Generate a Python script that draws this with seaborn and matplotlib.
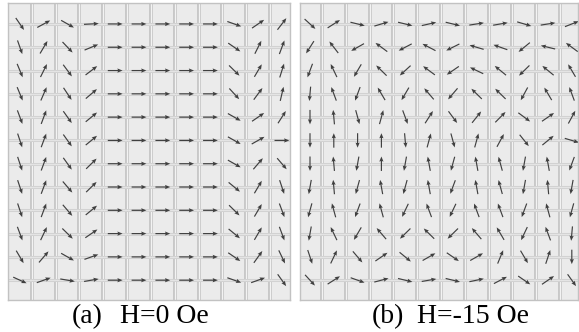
import numpy as np
import pandas as pd
import matplotlib.pyplot as plt
import seaborn as sns

# magnetisation angle of every cell (degrees, 0 = right, 90 = up), row by row from the top
angles_a = [
    [-56, 29, -30, 3, 0, 0, 0, 0, 0, -20, 35, 53],
    [-71, 60, -47, 23, 0, 0, 0, 0, 0, -35, 64, 70],
    [-68, 64, -54, 38, 0, 0, 0, 0, 0, -45, 60, 73],
    [-68, 67, -57, 41, 0, 0, 0, 0, 0, -48, 54, 77],
    [-70, 70, -55, 40, 0, 0, 0, 0, 0, -30, 35, 58],
    [-72, 70, -55, 40, 0, 0, 0, 0, 0, -30, 30, 0],
    [-72, 70, -55, 45, 0, 0, 0, 0, 0, -30, 50, -50],
    [-72, 70, -50, 45, 0, 0, 0, 0, 0, -40, 60, -72],
    [-72, 70, -50, 40, 0, 0, 0, 0, 0, -45, 60, -70],
    [-70, 65, -45, 35, 0, 0, 0, 0, 0, -40, 60, -70],
    [-60, 50, -30, 20, 0, 0, 0, 0, 0, -35, 55, -65],
    [-25, 20, -10, 10, 0, 0, 0, 0, 0, -20, 20, -55],
]

angles_b = [
    [-43, 33, -14, 17, -14, 13, -14, 9, 10, -17, 9, 22],
    [-122, 127, -150, 143, -152, 152, -153, 163, 160, -140, 166, 143],
    [-110, 115, -120, 135, -137, 143, -145, 154, 140, -135, 140, 120],
    [-95, 110, -110, 120, -120, 130, -130, 135, 135, -118, 120, 110],
    [-90, 95, -75, 75, -70, 58, -54, 52, 46, -37, 35, 62],
    [-90, 90, -90, 90, -85, 75, -75, 75, 62, -52, 40, -17],
    [-90, 95, -100, 90, -100, 100, -105, 100, 105, -100, 100, -110],
    [-100, 95, -105, 100, -105, 100, -110, 100, 105, -100, 95, -100],
    [-105, 105, -110, 105, -115, 110, -115, 110, 110, -110, 105, -105],
    [-100, 115, -120, 130, -135, 135, -135, 130, 120, -115, 110, -95],
    [-72, 65, -50, 35, -40, 30, -35, 30, 68, -60, 72, -90],
    [-48, 33, -20, 15, -14, 10, -14, 12, 28, -35, 35, -55],
]

panel_tags = ["(a)", "(b)"]
field_labels = ["H=0 Oe", "H=-15 Oe"]

sns.set_theme(style="white")
plt.rcParams["font.family"] = ["Liberation Serif", "DejaVu Serif"]

W, H = 579, 332
ARROW_LEN = 0.62


def arrow_frame(angles):
    rows = []
    for r, row in enumerate(angles):
        for c, a in enumerate(row):
            rows.append({"col": c, "row": r, "angle": a})
    return pd.DataFrame(rows)


def draw_panel(ax, df, xlim):
    ax.set_facecolor("#ebebeb")
    ax.set_xlim(*xlim)
    ax.set_ylim(11.85, -0.9)
    ax.set_xticks([])
    ax.set_yticks([])
    for s in ax.spines.values():
        s.set_color("#c2c2c2")
        s.set_linewidth(1.0)

    # grooves between the columns
    for k in range(13):
        x = k - 0.5
        if xlim[0] < x < xlim[1]:
            ax.axvline(x, color="#c6c6c6", lw=2.8, zorder=1)
            ax.axvline(x, color="#f3f3f3", lw=0.9, zorder=1)
    # lines through the rows
    for r in range(12):
        ax.axhline(r, color="#d2d2d2", lw=2.2, zorder=1)
        ax.axhline(r, color="#e8e8e8", lw=0.6, zorder=1)

    th = np.deg2rad(df["angle"].to_numpy())
    u = ARROW_LEN * np.cos(th)
    v = -ARROW_LEN * np.sin(th)
    ax.quiver(df["col"], df["row"], u, v, angles="xy", scale_units="xy", scale=1,
              pivot="middle", color="#404040", width=0.0042,
              headwidth=3.6, headlength=4.4, headaxislength=3.9, zorder=3)


fig = plt.figure(figsize=(W / 100, H / 100), dpi=100)

ax_a = fig.add_axes([8 / W, 32 / H, 282 / W, 297 / H])
draw_panel(ax_a, arrow_frame(angles_a), (-0.5, 11.34))

ax_b = fig.add_axes([300 / W, 32 / H, 278 / W, 297 / H])
draw_panel(ax_b, arrow_frame(angles_b), (-0.42, 11.26))

base = (H - 323) / H
fig.text(72 / W, base, panel_tags[0], fontsize=20, va="baseline", color="black")
fig.text(120 / W, base, field_labels[0], fontsize=20, va="baseline", color="black")
fig.text(372 / W, base, panel_tags[1], fontsize=20, va="baseline", color="black")
fig.text(417 / W, base, field_labels[1], fontsize=20, va="baseline", color="black")

fig.savefig("out.png", dpi=100)
